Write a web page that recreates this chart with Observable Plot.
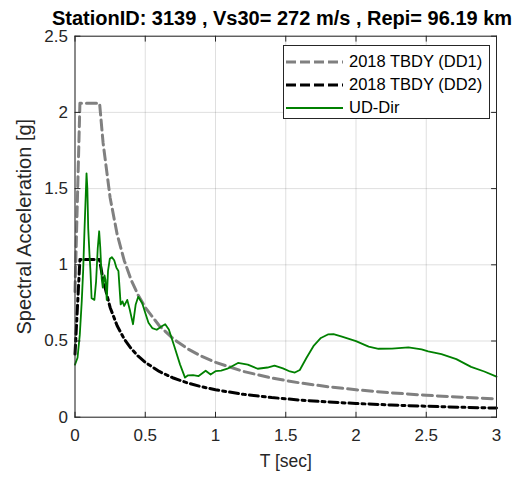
<!DOCTYPE html>
<html><head><meta charset="utf-8">
<script src="https://cdn.jsdelivr.net/npm/d3@7"></script>
<script src="https://cdn.jsdelivr.net/npm/@observablehq/plot@0.6"></script>
<style>
body{margin:0;background:#fff;font-family:"Liberation Sans",Arial,sans-serif;}
#wrap{position:relative;width:530px;height:477px;overflow:hidden;}
#title{box-sizing:border-box;height:28px;padding-left:34px;width:530px;text-align:center;font-weight:bold;font-size:20px;line-height:20px;padding-top:8px;color:#000;white-space:nowrap;}
#legend{position:absolute;left:283px;top:45px;width:207px;height:74px;box-sizing:border-box;border:1px solid #262626;background:#fff;padding-top:4px;}
.row{display:flex;align-items:center;height:23px;font-size:16.5px;color:#000;}
.row svg{margin-left:2px;margin-right:6px;}
</style></head><body>
<div id="wrap">
<div id="title">StationID: 3139 , Vs30= 272 m/s , Repi= 96.19 km</div>
<div id="chart"></div>
<div id="legend"></div>
</div>
<script>
const xTicks = [0, 0.5, 1, 1.5, 2, 2.5, 3];
const xTickLabels = ["0", "0.5", "1", "1.5", "2", "2.5", "3"];
const yTicks = [0, 0.5, 1, 1.5, 2, 2.5];
const yTickLabels = ["0", "0.5", "1", "1.5", "2", "2.5"];
const xLabel = ["T [sec]"];
const yLabel = ["Spectral Acceleration [g]"];

const seriesNames = ["2018 TBDY (DD1)", "2018 TBDY (DD2)", "UD-Dir"];

// Design spectrum DD1
const dd1T  = [0, 0.035, 0.175, 0.2, 0.25, 0.3, 0.35, 0.4, 0.45, 0.5, 0.6, 0.7, 0.8, 0.9, 1.0, 1.2, 1.4, 1.6, 1.8, 2.0, 2.25, 2.5, 2.75, 3.0];
const dd1Sa = [0.824, 2.06, 2.06, 1.8, 1.44, 1.2, 1.029, 0.9, 0.8, 0.72, 0.6, 0.514, 0.45, 0.4, 0.36, 0.3, 0.257, 0.225, 0.2, 0.18, 0.16, 0.144, 0.131, 0.12];

// Design spectrum DD2
const dd2T  = [0, 0.035, 0.174, 0.2, 0.25, 0.3, 0.35, 0.4, 0.45, 0.5, 0.6, 0.7, 0.8, 0.9, 1.0, 1.2, 1.4, 1.6, 1.8, 2.0, 2.25, 2.5, 2.75, 3.0];
const dd2Sa = [0.414, 1.035, 1.035, 0.9, 0.72, 0.6, 0.514, 0.45, 0.4, 0.36, 0.3, 0.257, 0.225, 0.2, 0.18, 0.15, 0.129, 0.1125, 0.1, 0.09, 0.08, 0.072, 0.065, 0.06];

// Recorded UD-Dir spectrum
const udT  = [0, 0.018, 0.034, 0.048, 0.058, 0.068, 0.082, 0.088, 0.094, 0.103, 0.11, 0.118, 0.138, 0.15, 0.162, 0.172, 0.18, 0.19, 0.198, 0.21, 0.217, 0.226, 0.235, 0.248, 0.262, 0.279, 0.295, 0.309, 0.325, 0.338, 0.35, 0.372, 0.39, 0.413, 0.432, 0.45, 0.478, 0.505, 0.523, 0.55, 0.582, 0.615, 0.642, 0.668, 0.705, 0.748, 0.783, 0.805, 0.84, 0.88, 0.93, 0.965, 1.0, 1.04, 1.085, 1.16, 1.23, 1.30, 1.37, 1.42, 1.48, 1.53, 1.565, 1.60, 1.648, 1.70, 1.75, 1.80, 1.84, 1.90, 2.0, 2.09, 2.16, 2.256, 2.373, 2.467, 2.514, 2.608, 2.714, 2.819, 2.913, 3.0];
const udSa = [0.345, 0.39, 0.54, 0.76, 0.96, 1.24, 1.60, 1.50, 1.24, 1.07, 0.96, 0.78, 0.77, 0.89, 1.11, 1.22, 1.11, 0.91, 0.85, 0.93, 0.90, 0.77, 0.96, 1.04, 1.05, 1.03, 0.98, 0.96, 0.74, 0.76, 0.73, 0.77, 0.705, 0.61, 0.74, 0.79, 0.75, 0.67, 0.62, 0.585, 0.574, 0.595, 0.61, 0.575, 0.47, 0.345, 0.26, 0.275, 0.276, 0.27, 0.305, 0.28, 0.302, 0.306, 0.318, 0.356, 0.345, 0.318, 0.326, 0.338, 0.32, 0.30, 0.293, 0.31, 0.39, 0.47, 0.52, 0.543, 0.545, 0.528, 0.499, 0.463, 0.449, 0.45, 0.458, 0.445, 0.432, 0.414, 0.381, 0.33, 0.30, 0.266];

const toRows = (T, S) => T.map((t, i) => ({T: t, Sa: S[i]}));
const dd1 = toRows(dd1T, dd1Sa);
const dd2 = toRows(dd2T, dd2Sa);
const ud = toRows(udT, udSa);

const styles = [
  {stroke: "#808080", strokeWidth: 3, strokeDasharray: "10,5"},
  {stroke: "#000000", strokeWidth: 3, strokeDasharray: "9,4,3,4"},
  {stroke: "#008000", strokeWidth: 1.8, strokeDasharray: null}
];

const tickShape = {draw(ctx, l) { ctx.moveTo(0, 0); ctx.lineTo(0, -l); }};
const tickOpts = {length: 5, anchor: "start", shape: tickShape, stroke: "#262626", strokeWidth: 1};

const chart = Plot.plot({
  width: 530,
  height: 449,
  marginTop: 7.7,
  marginBottom: 60.3,
  marginLeft: 74.5,
  marginRight: 34,
  style: {fontFamily: "'Liberation Sans', Arial, sans-serif", fontSize: "17px", color: "#262626", background: "transparent"},
  x: {type: "linear", domain: [0, 3]},
  y: {type: "linear", domain: [0, 2.5]},
  marks: [
    Plot.gridX(xTicks, {stroke: "#262626", strokeOpacity: 0.15}),
    Plot.gridY(yTicks, {stroke: "#262626", strokeOpacity: 0.15}),
    Plot.line(dd1, {x: "T", y: "Sa", ...styles[0], strokeLinejoin: "round"}),
    Plot.line(dd2, {x: "T", y: "Sa", ...styles[1], strokeLinejoin: "round"}),
    Plot.line(ud, {x: "T", y: "Sa", ...styles[2], strokeLinejoin: "round"}),
    Plot.frame({stroke: "#262626", strokeWidth: 1}),
    Plot.vector(xTicks, {x: d => d, frameAnchor: "bottom", rotate: 0, ...tickOpts}),
    Plot.vector(xTicks, {x: d => d, frameAnchor: "top", rotate: 180, ...tickOpts}),
    Plot.vector(yTicks, {y: d => d, frameAnchor: "left", rotate: 90, ...tickOpts}),
    Plot.vector(yTicks, {y: d => d, frameAnchor: "right", rotate: 270, ...tickOpts}),
    Plot.axisX(xTicks, {anchor: "bottom", tickSize: 0, tickPadding: 12, tickFormat: d => xTickLabels[xTicks.indexOf(d)], label: null, fontSize: 17, fill: "#262626"}),
    Plot.axisY(yTicks, {anchor: "left", tickSize: 0, tickPadding: 7, tickFormat: d => yTickLabels[yTicks.indexOf(d)], label: null, fontSize: 17, fill: "#262626"}),
    Plot.text(xLabel, {text: d => d, frameAnchor: "bottom", dy: 44, lineAnchor: "middle", textAnchor: "middle", fontSize: 17.5, fill: "#262626"}),
    Plot.text(yLabel, {text: d => d, frameAnchor: "left", dx: -50, rotate: -90, lineAnchor: "middle", textAnchor: "middle", fontSize: 20, fill: "#262626"})
  ]
});
document.getElementById("chart").appendChild(chart);

const legend = document.getElementById("legend");
seriesNames.forEach((name, i) => {
  const row = document.createElement("div");
  row.className = "row";
  const s = styles[i];
  row.innerHTML = `<svg width="57" height="6"><line x1="0" y1="3" x2="57" y2="3" stroke="${s.stroke}" stroke-width="${s.strokeWidth}" ${s.strokeDasharray ? `stroke-dasharray="10,4"` : ""}/></svg><span>${name}</span>`;
  legend.appendChild(row);
});
</script>
</body></html>
